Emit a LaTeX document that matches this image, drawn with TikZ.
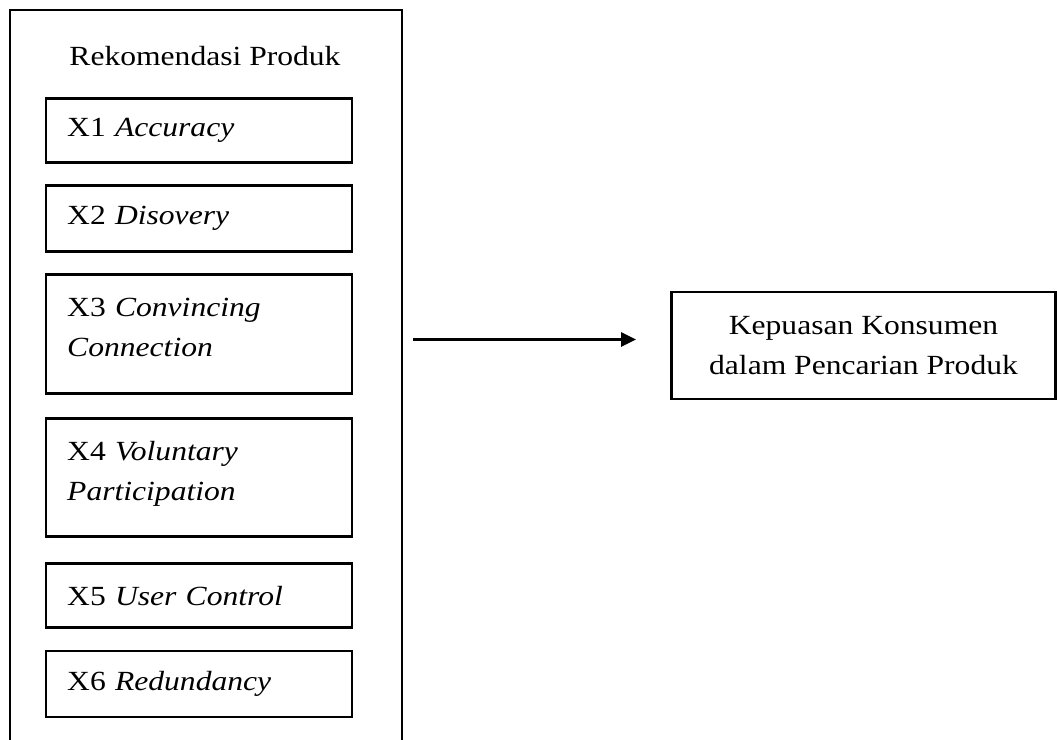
\documentclass[tikz,border=0pt]{standalone}
\usepackage{fontspec}
\setmainfont[FakeStretch=1.14]{Liberation Serif}
\usetikzlibrary{arrows.meta,positioning}

\begin{document}
\begin{tikzpicture}[x=0.025cm, y=-0.025cm, line width=1.9pt,
    font=\fontsize{19.7}{28.4}\selectfont,
    every node/.style={inner sep=0pt},
    kotak/.style={draw, rectangle, minimum width=7.65cm, text width=6.59cm, inner xsep=0.53cm, align=left},
    duabaris/.style={text depth=1.35cm},
    panah/.style={-{Triangle[length=0.375cm, width=0.35cm]}, shorten <=0.275cm, shorten >=0.85cm}]
            \useasboundingbox (0,0) rectangle (1057,740);

            % bingkai rekomendasi produk (bawah terbuka)
            \draw (10,740) -- (10,10) -- (402,10) -- (402,740);
            \coordinate (bingkai-kanan) at (402,339.5);
            \node[anchor=base] (judul) at (205,66) {Rekomendasi Produk};

            \node[kotak, minimum height=1.6cm, anchor=north west] (x1) at (44.7,97) {X1 \textit{Accuracy}};
            \node[kotak, minimum height=1.65cm, below=0.51cm of x1] (x2) {X2 \textit{Disovery}};
            \node[kotak, duabaris, minimum height=2.975cm, below=0.51cm of x2] (x3) {X3 \textit{Convincing}\\\textit{Connection}};
            \node[kotak, duabaris, minimum height=2.95cm, below=0.56cm of x3] (x4) {X4 \textit{Voluntary}\\\textit{Participation}};
            \node[kotak, minimum height=1.6cm, below=0.61cm of x4] (x5) {X5 \textit{User Control}};
            \node[kotak, minimum height=1.65cm, below=0.51cm of x5] (x6) {X6 \textit{Redundancy}};

            \node[draw, minimum width=9.6cm, minimum height=2.675cm, align=center] (kepuasan) at (863.5,345.5) {Kepuasan Konsumen\\dalam Pencarian Produk};

            \draw[panah] (bingkai-kanan) -- (bingkai-kanan -| kepuasan.west);
        \end{tikzpicture}
\end{document}
